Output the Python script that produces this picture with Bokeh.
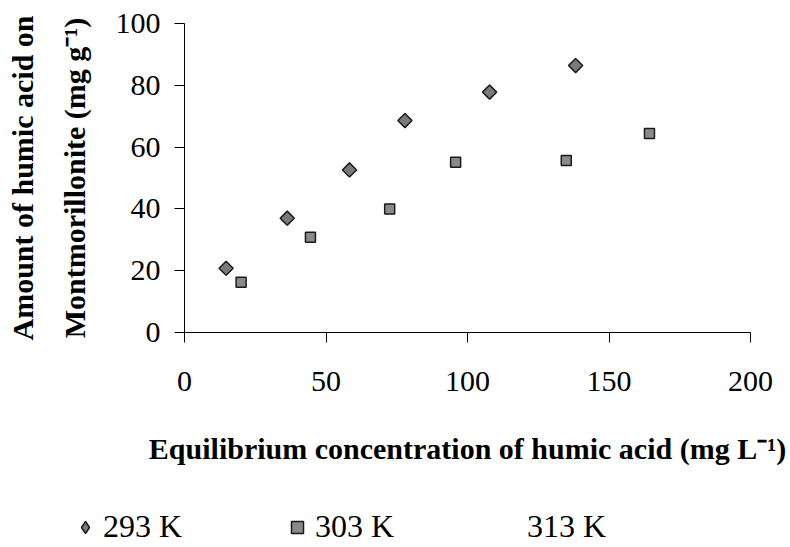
import math
from bokeh.plotting import figure
from bokeh.models import (Range1d, Legend, LegendItem, ColumnDataSource,
                          LinearAxis, FixedTicker)
from bokeh.embed import file_html
from bokeh.resources import INLINE

# ---- data ----
x_293 = [14.7, 36.3, 58.3, 77.9, 107.8, 138.2]
y_293 = [20.8, 37.0, 52.6, 68.6, 77.8, 86.4]
x_303 = [20.0, 44.5, 72.5, 95.8, 134.9, 164.3]
y_303 = [16.3, 30.8, 40.0, 55.1, 55.7, 64.4]
x_313 = []
y_313 = []
series_labels = ["293 K", "303 K", "313 K"]
x_ticks = [0, 50, 100, 150, 200]
y_ticks = [0, 20, 40, 60, 80, 100]
x_title = "Equilibrium concentration of humic acid (mg L\u207b\u00b9)"
y_title_1 = "Amount of humic acid on"
y_title_2 = "Montmorillonite (mg g\u207b\u00b9)"

SERIF = "Liberation Serif"

p = figure(width=790, height=495, output_backend="svg", toolbar_location=None,
           x_range=Range1d(0, 200), y_range=Range1d(0, 100),
           min_border_left=184, min_border_right=40,
           min_border_top=23, min_border_bottom=163)
p.xgrid.visible = False
p.ygrid.visible = False
p.outline_line_color = None
p.background_fill_color = "white"
p.border_fill_color = "white"

for ax, ticks in ((p.xaxis, x_ticks), (p.yaxis, y_ticks)):
    ax.ticker = ticks
    ax.axis_line_color = "black"
    ax.axis_line_width = 1
    ax.major_tick_line_color = "black"
    ax.major_tick_out = 10
    ax.major_tick_in = 0
    ax.minor_tick_line_color = None
    ax.major_label_text_font = SERIF
    ax.major_label_text_font_size = "30px"
    ax.major_label_text_color = "black"
    ax.axis_label_text_font = SERIF
    ax.axis_label_text_font_style = "bold"
    ax.axis_label_text_color = "black"
p.xaxis.major_label_standoff = 29
p.yaxis.major_label_standoff = 14

p.xaxis.axis_label = x_title
p.xaxis.axis_label_text_font_size = "30px"
p.xaxis.axis_label_standoff = 38

p.yaxis.axis_label = y_title_2
p.yaxis.axis_label_text_font_size = "30px"
p.yaxis.axis_label_standoff = 22

ax2 = LinearAxis(ticker=FixedTicker(ticks=[]), axis_line_color=None,
                 major_tick_out=0, major_tick_in=0, minor_tick_out=0,
                 minor_tick_in=0, axis_label=y_title_1,
                 axis_label_text_font=SERIF, axis_label_text_font_style="bold",
                 axis_label_text_font_size="30px", axis_label_text_color="black",
                 axis_label_standoff=16)
p.add_layout(ax2, "left")

s293 = ColumnDataSource(dict(x=x_293, y=y_293))
s303 = ColumnDataSource(dict(x=x_303, y=y_303))
s313 = ColumnDataSource(dict(x=x_313, y=y_313))

style293 = dict(marker="square", angle=math.pi / 4, size=10,
                fill_color="#7a7a7a", line_color="#1a1a1a", line_width=1.5)
style303 = dict(marker="square", size=10,
                fill_color="#8a8a8a", line_color="#1a1a1a", line_width=1.5)
style313 = dict(marker="triangle", size=10, fill_alpha=0, line_alpha=0)

p.scatter("x", "y", source=s293, **style293)
p.scatter("x", "y", source=s303, **style303)
p.scatter("x", "y", source=s313, **style313)

# ---- legend strip below the chart (separate root, full-width frame) ----
pl = figure(width=790, height=52, output_backend="svg", toolbar_location=None,
            x_range=Range1d(0, 1), y_range=Range1d(0, 1),
            x_axis_location=None, y_axis_location=None,
            min_border_left=0, min_border_right=0,
            min_border_top=0, min_border_bottom=0)
pl.xgrid.visible = False
pl.ygrid.visible = False
pl.outline_line_color = None
pl.border_fill_color = "white"

leg293 = dict(style293, marker="diamond", angle=0)
l293 = pl.scatter("x", "y", source=s293, **leg293)
l303 = pl.scatter("x", "y", source=s303, **style303)
l313 = pl.scatter("x", "y", source=s313, **style313)

legend = Legend(items=[LegendItem(label=series_labels[0], renderers=[l293]),
                       LegendItem(label=series_labels[1], renderers=[l303]),
                       LegendItem(label=series_labels[2], renderers=[l313])],
                orientation="horizontal", location=(70, 2),
                padding=0, margin=0, spacing=5, label_standoff=3,
                glyph_width=30, glyph_height=30, label_width=174,
                border_line_color=None, background_fill_alpha=0,
                label_text_font=SERIF, label_text_font_size="32px",
                label_text_color="black")
pl.add_layout(legend, "center")

open("out.html", "w").write(file_html([p, pl], INLINE))
